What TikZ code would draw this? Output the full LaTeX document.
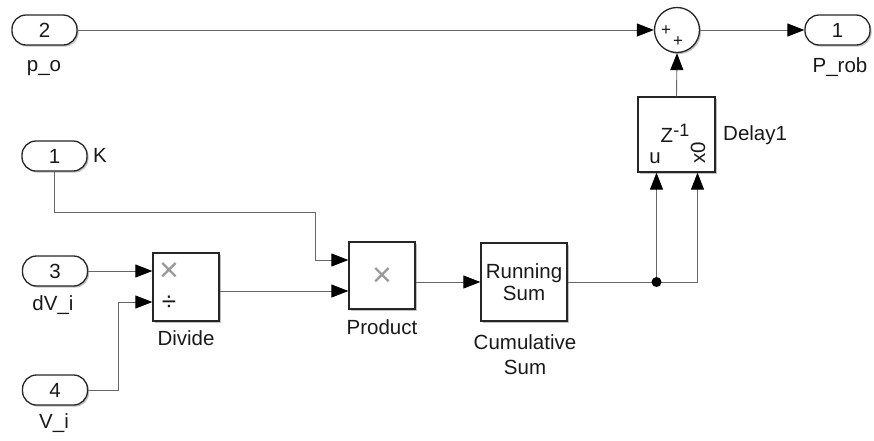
\documentclass[tikz,border=0pt]{standalone}
\usepackage{fontspec}
\setmainfont{Liberation Sans}
\usetikzlibrary{arrows.meta,shadows}
\begin{document}
\begin{tikzpicture}[x=1pt,y=-1pt,
  every node/.style={font=\fontsize{20.5}{22}\selectfont, inner sep=0pt, text=black!90},
  blk/.style={draw=black!85, line width=1.3pt, fill=white,
    drop shadow={shadow xshift=1.6pt,shadow yshift=-1.6pt,fill=black!45,opacity=.55}},
  port/.style={blk, rounded corners=14pt, minimum width=65pt, minimum height=30pt},
  sig/.style={draw=black!60, line width=0.9pt},
  arr/.style={sig, -{Triangle[length=17pt,width=13pt,color=black]}},
  lbl/.style={},
  small/.style={font=\fontsize{17}{17}\selectfont},
  mul/.style={font=\fontsize{34}{34}\selectfont, text=black!40}
]
\useasboundingbox (0,0) rectangle (874,440);

% ports
\node[port] (in2) at (44.5,30) {2};
\node[port] (out1) at (837.5,30) {1};
\node[port] (in1) at (54.5,156) {1};
\node[port] (in3) at (55,271) {3};
\node[port] (in4) at (55,390) {4};

\node[lbl] (lpo) at (44,68) {p\_o};
\node[lbl] (lprob) at (840,67) {P\_rob};
\node[lbl, anchor=west] (lk) at (93,155) {K};
\node[lbl] (ldv) at (53,305) {dV\_i};
\node[lbl] (lvi) at (54,423) {V\_i};

% blocks
\node[blk, minimum width=66pt, minimum height=68pt] (div) at (186,287) {};
\node[blk, minimum width=66pt, minimum height=67pt] (prod) at (382,275.5) {};
\node[blk, minimum width=86pt, minimum height=78pt, align=center] (rs) at (524,282) {Running\\Sum};
\node[blk, minimum width=77pt, minimum height=75pt] (dly) at (676.5,134.5) {};
\node[blk, circle, minimum size=45pt] (sum) at (677,30) {};

% block contents
\node[mul] (dx) at (169,272) {×};
\node[font=\fontsize{26}{26}\selectfont] (dd) at (169,303) {÷};
\node[mul] (px) at (382,277) {×};
\node (z) at (675,133) {Z\raisebox{6pt}{\fontsize{18}{18}\selectfont -1}};
\node (u) at (655,158) {u};
\node[rotate=90] (x0) at (698,153) {x0};
\node[small] (p1) at (666,31) {+};
\node[small] (p2) at (678,42) {+};

% block labels
\node[lbl] (ldiv) at (186,338) {Divide};
\node[lbl] (lprod) at (382,327) {Product};
\node[lbl, align=center] (lcs) at (525,355) {Cumulative\\[3pt]Sum};
\node[lbl, anchor=west] (ldly) at (723,135) {Delay1};

% port coordinates
\coordinate (divin1) at ([yshift=16pt]div.west);
\coordinate (divin2) at ([yshift=-15pt]div.west);
\coordinate (prodin1) at ([yshift=15.5pt]prod.west);
\coordinate (prodin2) at ([yshift=-15.5pt]prod.west);
\coordinate (dlyu) at ([xshift=-20pt]dly.south);
\coordinate (dlyx) at ([xshift=21pt]dly.south);
\coordinate (k1) at (54.5,212);
\coordinate (k2) at (315,212);
\coordinate (v1) at (118,390);
\coordinate (jn) at (rs.east -| dlyu);

% connectors
\draw[arr] (in2.east) -- (sum.west);
\draw[arr] (sum.east) -- (out1.west);
\draw[arr] (dly.north) -- (sum.south);
\draw[arr] (in1.south) -- (k1) -- (k2) |- (prodin1);
\draw[arr] (in3.east |- divin1) -- (divin1);
\draw[arr] (in4.east) -- (v1) |- (divin2);
\draw[arr] (div.east |- prodin2) -- (prodin2);
\draw[arr] (prod.east |- rs.west) -- (rs.west);
\draw[arr] (rs.east) -| (dlyx);
\draw[arr] (jn) -- (dlyu);
\fill[black] (jn) circle (5pt);
\end{tikzpicture}
\end{document}
